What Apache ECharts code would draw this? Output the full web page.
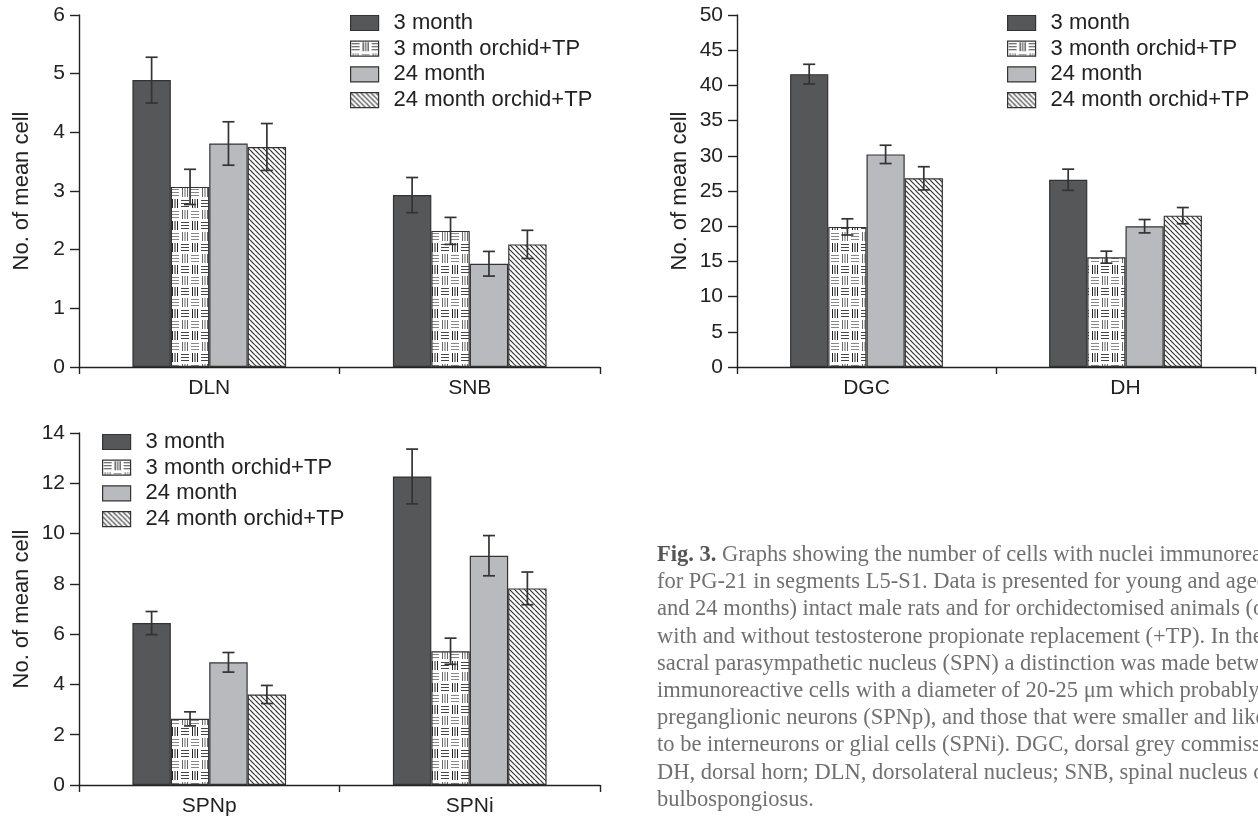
<!DOCTYPE html>
<html>
<head>
<meta charset="utf-8">
<script src="https://cdn.jsdelivr.net/npm/echarts@6/dist/echarts.min.js"></script>
<style>
  html, body { margin: 0; padding: 0; background: #fff; }
  #chart { width: 1258px; height: 820px; }
</style>
</head>
<body>
<div id="chart"></div>
<script>
// series / legend names
const seriesNames = ['3 month', '3 month orchid+TP', '24 month', '24 month orchid+TP'];

// panel A: DLN / SNB
const catsA = ['DLN', 'SNB'];
const meanA = [[4.89, 2.93], [3.07, 2.32], [3.81, 1.76], [3.75, 2.09]];
const errA  = [[0.39, 0.30], [0.30, 0.23], [0.37, 0.21], [0.40, 0.24]];

// panel B: DGC / DH
const catsB = ['DGC', 'DH'];
const meanB = [[41.6, 26.6], [19.9, 15.6], [30.2, 20.0], [26.8, 21.5]];
const errB  = [[1.4, 1.5], [1.15, 0.85], [1.3, 0.95], [1.65, 1.15]];

// panel C: SPNp / SPNi
const catsC = ['SPNp', 'SPNi'];
const meanC = [[6.44, 12.27], [2.63, 5.32], [4.88, 9.12], [3.60, 7.82]];
const errC  = [[0.46, 1.09], [0.28, 0.52], [0.39, 0.80], [0.36, 0.65]];

// y axis ranges
const yMax = [6, 50, 14];
const yStep = [1, 5, 2];

const captionLines = [
  '{b|Fig. 3.} Graphs showing the number of cells with nuclei immunoreactive',
  'for PG-21 in segments L5-S1. Data is presented for young and aged (3',
  'and 24 months) intact male rats and for orchidectomised animals (orchid)',
  'with and without testosterone propionate replacement (+TP). In the',
  'sacral parasympathetic nucleus (SPN) a distinction was made between',
  'immunoreactive cells with a diameter of 20-25 μm which probably represent',
  'preganglionic neurons (SPNp), and those that were smaller and likely',
  'to be interneurons or glial cells (SPNi). DGC, dorsal grey commissure;',
  'DH, dorsal horn; DLN, dorsolateral nucleus; SNB, spinal nucleus of the',
  'bulbospongiosus.'
];

const FONT = '"Liberation Sans", Arial, sans-serif';
const INK = '#222';
const GAP = 0.41;

// fill patterns
function hatchPattern() {
  const s = 5;
  const c = document.createElement('canvas');
  c.width = c.height = s;
  const g = c.getContext('2d');
  g.fillStyle = '#fff';
  g.fillRect(0, 0, s, s);
  g.strokeStyle = '#333';
  g.lineWidth = 1.2;
  for (const o of [-s, 0, s]) {
    g.beginPath();
    g.moveTo(o, 0);
    g.lineTo(o + s, s);
    g.stroke();
  }
  return c;
}

function basketPattern() {
  const w = 10, h = 11;
  const c = document.createElement('canvas');
  c.width = w * 2; c.height = h * 2;
  const g = c.getContext('2d');
  g.fillStyle = '#fff';
  g.fillRect(0, 0, w * 2, h * 2);
  g.lineWidth = 1;
  function horiz(x0, y0, col) {
    g.strokeStyle = col;
    for (const dy of [2.5, 5.5, 8.5]) {
      g.beginPath(); g.moveTo(x0 + 1, y0 + dy); g.lineTo(x0 + w - 1, y0 + dy); g.stroke();
    }
  }
  function vert(x0, y0, col) {
    g.strokeStyle = col;
    for (const dx of [2.5, 5, 7.5]) {
      g.beginPath(); g.moveTo(x0 + dx, y0 + 1); g.lineTo(x0 + dx, y0 + h - 1); g.stroke();
    }
  }
  horiz(0, 0, '#444');
  vert(w, 0, '#222');
  vert(0, h, '#666');
  horiz(w, h, '#888');
  return c;
}

const fills = [
  '#555759',
  { image: basketPattern(), repeat: 'repeat' },
  '#b9babd',
  { image: hatchPattern(), repeat: 'repeat' }
];

const panels = [
  { cats: catsA, mean: meanA, err: errA, grid: { left: 79, top: 15, width: 521, height: 352 } },
  { cats: catsB, mean: meanB, err: errB, grid: { left: 737, top: 15, width: 518, height: 352 } },
  { cats: catsC, mean: meanC, err: errC, grid: { left: 79, top: 433, width: 521, height: 352 } }
];

const grids = [], xAxes = [], yAxes = [], series = [];

panels.forEach((p, pi) => {
  grids.push(p.grid);
  xAxes.push({
    type: 'category',
    gridIndex: pi,
    data: p.cats,
    axisLine: { lineStyle: { color: INK, width: 1.4 } },
    axisTick: { show: true, length: 7, lineStyle: { color: INK, width: 1.4 } },
    axisLabel: { fontSize: 21, color: INK, fontFamily: FONT, margin: 11 }
  });
  yAxes.push({
    type: 'value',
    gridIndex: pi,
    min: 0,
    max: yMax[pi],
    interval: yStep[pi],
    name: 'No. of mean cell',
    nameLocation: 'middle',
    nameGap: 46,
    nameTextStyle: { fontSize: 22, color: INK, fontFamily: FONT },
    axisLine: { show: true, lineStyle: { color: INK, width: 1.4 } },
    axisTick: { show: true, length: 9, lineStyle: { color: INK, width: 1.4 } },
    axisLabel: { fontSize: 21, color: INK, fontFamily: FONT, margin: 14 },
    splitLine: { show: false }
  });

  seriesNames.forEach((name, si) => {
    series.push({
      type: 'bar',
      name: name,
      xAxisIndex: pi,
      yAxisIndex: pi,
      data: p.mean[si],
      barGap: '0%',
      barCategoryGap: (GAP * 100) + '%',
      itemStyle: { color: fills[si], borderColor: '#333', borderWidth: 1.2 },
      emphasis: { disabled: true }
    });
  });

  seriesNames.forEach((name, si) => {
    series.push({
      type: 'custom',
      xAxisIndex: pi,
      yAxisIndex: pi,
      z: 5,
      clip: false,
      silent: true,
      encode: { x: 0, y: 1 },
      data: p.mean[si].map((m, ci) => [ci, m, p.err[si][ci]]),
      renderItem: function (params, api) {
        const ci = api.value(0), m = api.value(1), e = api.value(2);
        const band = api.size([1, 0])[0];
        const bw = band * (1 - GAP) / 4;
        const cx = api.coord([ci, m])[0] + (si - 1.5) * bw;
        const yt = api.coord([ci, m + e])[1];
        const yb = api.coord([ci, m - e])[1];
        const st = { stroke: '#333', lineWidth: 1.7 };
        return {
          type: 'group',
          children: [
            { type: 'line', shape: { x1: cx, y1: yt, x2: cx, y2: yb }, style: st },
            { type: 'line', shape: { x1: cx - 6, y1: yt, x2: cx + 6, y2: yt }, style: st },
            { type: 'line', shape: { x1: cx - 6, y1: yb, x2: cx + 6, y2: yb }, style: st }
          ]
        };
      }
    });
  });
});

const legendPos = [{ left: 350, top: 12 }, { left: 1007, top: 12 }, { left: 102, top: 431 }];
const legends = legendPos.map(pos => ({
  left: pos.left,
  top: pos.top,
  padding: 0,
  orient: 'vertical',
  data: seriesNames,
  icon: 'rect',
  itemWidth: 28,
  itemHeight: 15,
  itemGap: 3.7,
  selectedMode: false,
  itemStyle: { borderColor: '#333', borderWidth: 1.2 },
  textStyle: { fontSize: 22, color: INK, fontFamily: FONT, padding: [0, 0, 0, 10] }
}));

const graphic = captionLines.map((t, i) => ({
  type: 'text',
  x: 657,
  y: 555 + i * 27.2,
  silent: true,
  style: {
    text: t,
    fill: '#707070',
    font: '22.5px "Liberation Serif", serif',
    verticalAlign: 'middle',
    rich: {
      b: { fontWeight: 'bold', fill: '#555', fontSize: 22.5, fontFamily: '"Liberation Serif", serif' }
    }
  }
}));

const chart = echarts.init(document.getElementById('chart'));
chart.setOption({
  animation: false,
  backgroundColor: '#fff',
  grid: grids,
  xAxis: xAxes,
  yAxis: yAxes,
  legend: legends,
  graphic: graphic,
  series: series
});
</script>
</body>
</html>
